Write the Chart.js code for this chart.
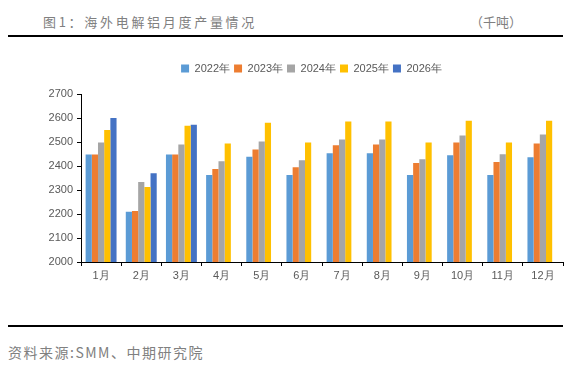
<!DOCTYPE html>
<html>
<head>
<meta charset="utf-8">
<script src="https://cdn.jsdelivr.net/npm/chart.js@4.4.1/dist/chart.umd.min.js"></script>
<style>
  html, body { margin:0; padding:0; background:#fff; }
  body { width:577px; height:377px; position:relative; overflow:hidden; }
  #wrap { position:absolute; left:0; top:0; width:577px; height:377px; }
  .t { position:absolute; font-family:"Noto Sans CJK SC", sans-serif; color:#808080; white-space:nowrap; }
  .hl { position:absolute; height:2px; background:#000; }
</style>
</head>
<body>
<div class="t" id="title" style="left:43px; top:13px; font-size:13px; line-height:18px; letter-spacing:2.7px;">图1：海外电解铝月度产量情况</div>
<div class="t" id="unit" style="left:470px; top:13px; font-size:13px; line-height:18px;">（千吨）</div>
<div class="hl" style="left:8px; top:35px; width:555px;"></div>
<div class="hl" style="left:8px; top:325px; width:555px;"></div>
<div class="t" id="src" style="left:8px; top:343px; font-size:14px; line-height:18px; letter-spacing:1.5px;">资料来源:SMM、中期研究院</div>
<div id="wrap"><canvas id="c" width="577" height="377"></canvas></div>
<script>
const categories = ["1月","2月","3月","4月","5月","6月","7月","8月","9月","10月","11月","12月"];
const seriesNames = ["2022年","2023年","2024年","2025年","2026年"];
const v2022 = [2448, 2209, 2448, 2362, 2439, 2362, 2453, 2453, 2362, 2445, 2362, 2436];
const v2023 = [2448, 2213, 2448, 2387, 2469, 2395, 2486, 2490, 2412, 2498, 2417, 2494];
const v2024 = [2498, 2333, 2490, 2420, 2502, 2424, 2510, 2510, 2428, 2527, 2449, 2531];
const v2025 = [2550, 2313, 2568, 2494, 2580, 2498, 2585, 2585, 2498, 2589, 2498, 2589];
const v2026 = [2600, 2370, 2572, null, null, null, null, null, null, null, null, null];
const yTicks = [2000, 2100, 2200, 2300, 2400, 2500, 2600, 2700];
const colors = ["#5B9BD5", "#ED7D31", "#A5A5A5", "#FFC000", "#4472C4"];

const allValues = [v2022, v2023, v2024, v2025, v2026];
Chart.defaults.font.family = "'Liberation Sans', Arial, sans-serif";
Chart.defaults.color = "#595959";

const legendMargin = {
  id: 'legendMargin',
  beforeInit(chart) {
    const fit = chart.legend.fit;
    chart.legend.fit = function () { fit.bind(chart.legend)(); this.height += 10; };
  },
  afterLayout(chart) {
    chart.legend.left += 30;
    chart.legend.right += 30;
  }
};

new Chart(document.getElementById('c'), {
  type: 'bar',
  data: {
    labels: categories,
    datasets: seriesNames.map((n, i) => ({
      label: n,
      data: allValues[i],
      backgroundColor: colors[i],
      borderWidth: 0,
      categoryPercentage: 0.77,
      barPercentage: 1.0
    }))
  },
  plugins: [legendMargin],
  options: {
    responsive: false,
    animation: false,
    devicePixelRatio: 1,
    layout: { padding: { top: 59, left: 0, right: 14, bottom: 0 } },
    plugins: {
      legend: {
        position: 'top',
        labels: { boxWidth: 8, boxHeight: 8, padding: 4, font: { size: 11 }, color: '#595959' }
      },
      tooltip: { enabled: false }
    },
    scales: {
      x: {
        grid: { display: true, drawOnChartArea: false, drawTicks: true, tickLength: 4, color: '#000', offset: true },
        border: { display: true, color: '#000', width: 1 },
        ticks: { font: { size: 11 }, color: '#595959', padding: 3, maxRotation: 0 },
        afterFit: (s) => { s.height = 115; }
      },
      y: {
        min: 2000, max: 2700,
        afterBuildTicks: (s) => { s.ticks = yTicks.map(v => ({ value: v })); },
        grid: { display: true, drawOnChartArea: false, drawTicks: true, tickLength: 4, color: '#000' },
        border: { display: true, color: '#000', width: 1 },
        ticks: { font: { size: 11 }, color: '#595959', padding: 4, callback: (v) => String(v) },
        afterFit: (s) => { s.width = 81; }
      }
    }
  }
});
</script>
</body>
</html>
